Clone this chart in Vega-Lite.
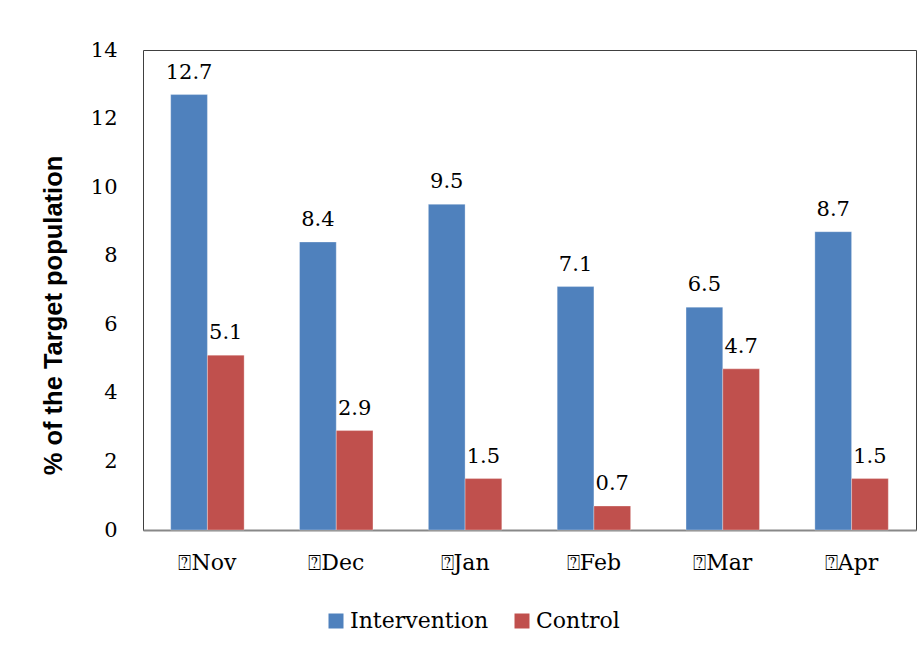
{
  "$schema": "https://vega.github.io/schema/vega-lite/v6.json",
  "autosize": "none",
  "width": 773,
  "height": 480,
  "padding": {"left": 143, "top": 50, "right": 5, "bottom": 124},
  "background": "white",
  "config": {
    "view": {"stroke": "#404040", "strokeWidth": 1},
    "font": "DejaVu Serif"
  },
  "data": {
    "values": [
      {"month": "⍰Nov", "group": "Intervention", "value": 12.7},
      {"month": "⍰Nov", "group": "Control", "value": 5.1},
      {"month": "⍰Dec", "group": "Intervention", "value": 8.4},
      {"month": "⍰Dec", "group": "Control", "value": 2.9},
      {"month": "⍰Jan", "group": "Intervention", "value": 9.5},
      {"month": "⍰Jan", "group": "Control", "value": 1.5},
      {"month": "⍰Feb", "group": "Intervention", "value": 7.1},
      {"month": "⍰Feb", "group": "Control", "value": 0.7},
      {"month": "⍰Mar", "group": "Intervention", "value": 6.5},
      {"month": "⍰Mar", "group": "Control", "value": 4.7},
      {"month": "⍰Apr", "group": "Intervention", "value": 8.7},
      {"month": "⍰Apr", "group": "Control", "value": 1.5}
    ]
  },
  "encoding": {
    "x": {
      "field": "month", "type": "nominal", "sort": null,
      "scale": {"paddingInner": 0.43, "paddingOuter": 0.215},
      "axis": {"title": null, "labelAngle": 0, "ticks": false, "labelPadding": 22,
               "labelFontSize": 22, "labelFont": "DejaVu Serif", "labelColor": "black",
               "domainColor": "#888888", "domainWidth": 2}
    },
    "xOffset": {"field": "group", "type": "nominal", "sort": ["Intervention", "Control"], "scale": {"paddingInner": 0}},
    "y": {
      "field": "value", "type": "quantitative",
      "scale": {"domain": [0, 14]},
      "axis": {"title": "% of the Target population", "titleFont": "Liberation Sans", "titleFontWeight": "bold",
               "titleFontSize": 25.5, "titleColor": "black", "titlePadding": 24, "titleY": 265,
               "values": [0, 2, 4, 6, 8, 10, 12, 14], "grid": false, "ticks": false, "domain": false,
               "labelPadding": 26, "labelFontSize": 21, "labelFont": "DejaVu Serif", "labelColor": "black"}
    }
  },
  "layer": [
    {
      "mark": {"type": "bar", "stroke": "white", "strokeWidth": 0.5, "strokeOpacity": 0.6},
      "encoding": {
        "color": {
          "field": "group", "type": "nominal",
          "scale": {"domain": ["Intervention", "Control"], "range": ["#4F81BD", "#C0504D"]},
          "legend": {"title": null, "orient": "none", "direction": "horizontal", "legendX": 182, "legendY": 560,
                     "symbolType": "square", "symbolSize": 225, "symbolStrokeWidth": 0,
                     "labelFontSize": 22, "labelFont": "DejaVu Serif", "labelColor": "black", "columnPadding": 22, "labelOffset": 3}
        }
      }
    },
    {
      "mark": {"type": "text", "baseline": "alphabetic", "dy": -16, "fontSize": 21, "font": "DejaVu Serif", "color": "black"},
      "encoding": {
        "text": {"field": "value", "type": "quantitative", "format": ".1f"}
      }
    }
  ]
}
